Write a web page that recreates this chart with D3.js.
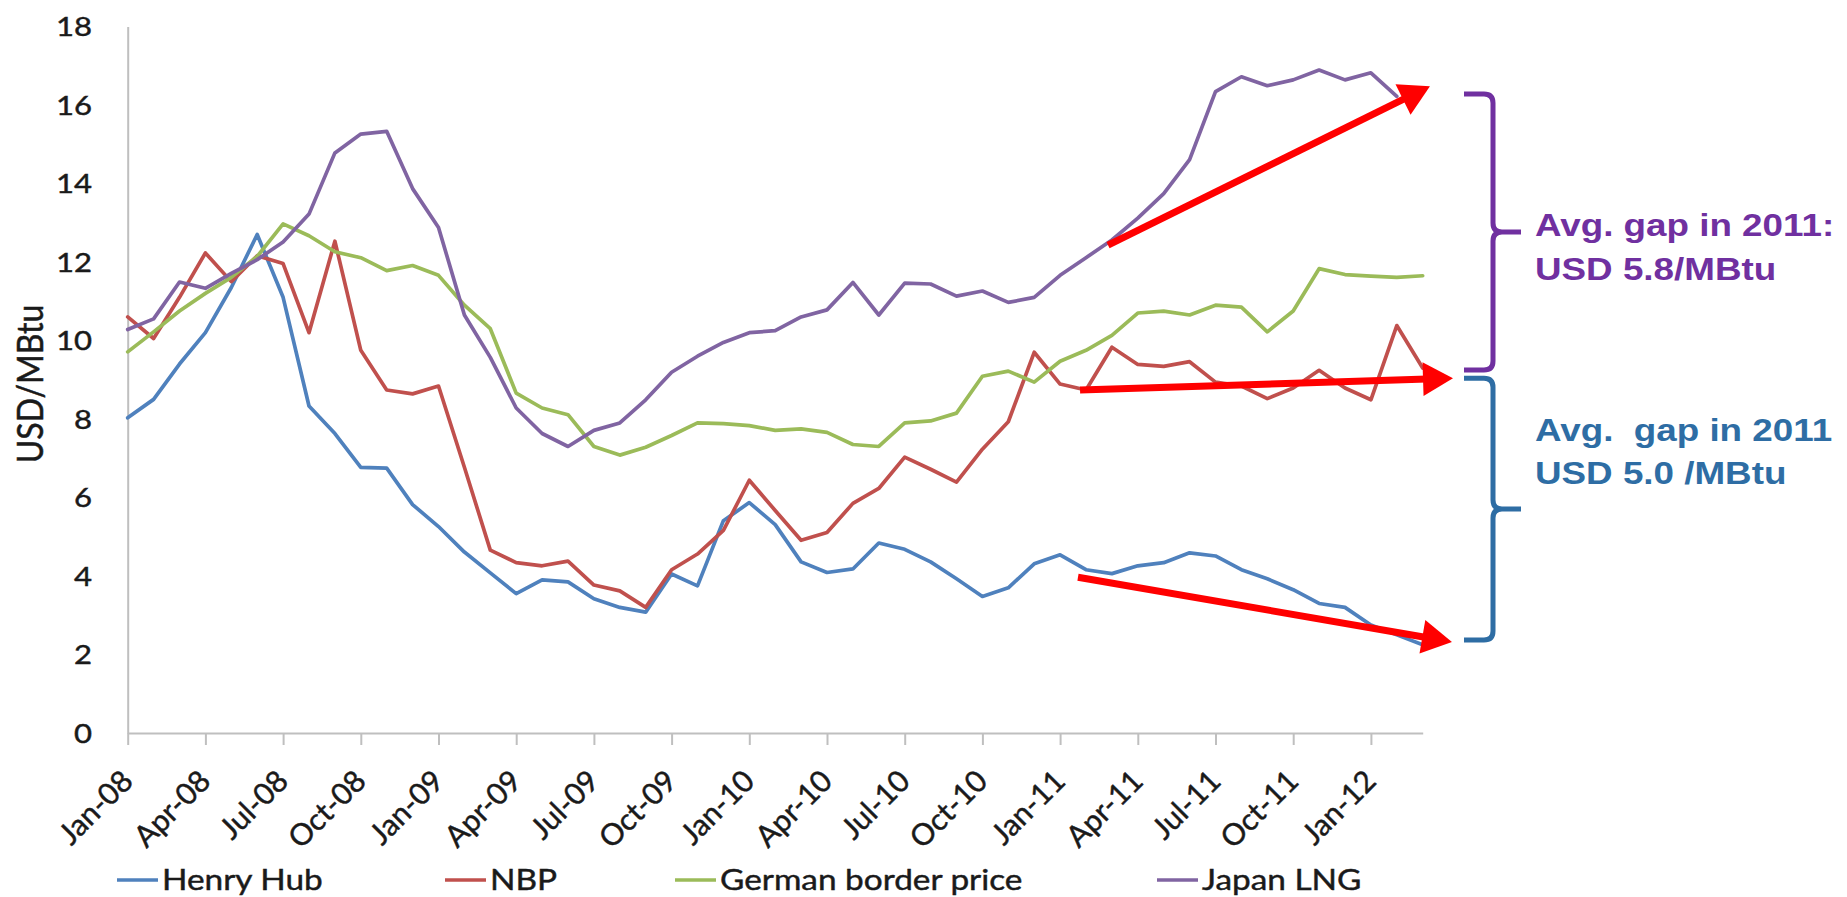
<!DOCTYPE html>
<html>
<head>
<meta charset="utf-8">
<script src="https://cdn.jsdelivr.net/npm/d3@7"></script>
<style>
  html, body { margin: 0; padding: 0; background: #ffffff; }
  svg { display: block; }
</style>
</head>
<body>
<svg id="chart" width="1847" height="897"></svg>
<script>
// Monthly gas prices, USD/MBtu, Jan-08 .. Mar-12
const months = [
  "Jan-08","Feb-08","Mar-08","Apr-08","May-08","Jun-08","Jul-08","Aug-08","Sep-08","Oct-08","Nov-08","Dec-08",
  "Jan-09","Feb-09","Mar-09","Apr-09","May-09","Jun-09","Jul-09","Aug-09","Sep-09","Oct-09","Nov-09","Dec-09",
  "Jan-10","Feb-10","Mar-10","Apr-10","May-10","Jun-10","Jul-10","Aug-10","Sep-10","Oct-10","Nov-10","Dec-10",
  "Jan-11","Feb-11","Mar-11","Apr-11","May-11","Jun-11","Jul-11","Aug-11","Sep-11","Oct-11","Nov-11","Dec-11",
  "Jan-12","Feb-12","Mar-12"
];

const tickLabels = ["Jan-08","Apr-08","Jul-08","Oct-08","Jan-09","Apr-09","Jul-09","Oct-09",
                    "Jan-10","Apr-10","Jul-10","Oct-10","Jan-11","Apr-11","Jul-11","Oct-11","Jan-12"];

const yTicks = [0, 2, 4, 6, 8, 10, 12, 14, 16, 18];

const henryHub = [
  8.03, 8.50, 9.40, 10.20, 11.35, 12.70, 11.10, 8.33, 7.63, 6.77, 6.75, 5.82,
  5.26, 4.61, 4.08, 3.55, 3.90, 3.85, 3.42, 3.20, 3.08, 4.05, 3.75, 5.41,
  5.87, 5.31, 4.36, 4.09, 4.18, 4.84, 4.68, 4.36, 3.93, 3.48, 3.70, 4.31,
  4.54, 4.16, 4.06, 4.26, 4.34, 4.59, 4.51, 4.16, 3.93, 3.65, 3.30, 3.20,
  2.75, 2.50, 2.25
];

const nbp = [
  10.60, 10.05, 11.10, 12.23, 11.50, 12.16, 11.96, 10.20, 12.53, 9.75, 8.74, 8.64,
  8.84, 6.77, 4.66, 4.34, 4.26, 4.38, 3.77, 3.62, 3.20, 4.16, 4.56, 5.16,
  6.44, 5.67, 4.91, 5.11, 5.85, 6.23, 7.03, 6.72, 6.39, 7.23, 7.93, 9.70,
  8.89, 8.74, 9.83, 9.39, 9.34, 9.46, 8.94, 8.84, 8.52, 8.79, 9.24, 8.79,
  8.49, 10.38, 9.30
];

const germanBorder = [
  9.71, 10.22, 10.75, 11.20, 11.61, 12.14, 12.97, 12.67, 12.26, 12.11, 11.78, 11.91,
  11.66, 10.90, 10.30, 8.66, 8.28, 8.11, 7.30, 7.08, 7.28, 7.58, 7.90, 7.88,
  7.83, 7.71, 7.75, 7.66, 7.35, 7.30, 7.90, 7.95, 8.15, 9.09, 9.22, 8.94,
  9.47, 9.75, 10.13, 10.70, 10.75, 10.65, 10.90, 10.85, 10.22, 10.75, 11.83, 11.68,
  11.64, 11.61, 11.65
];

const japanLng = [
  10.28, 10.55, 11.49, 11.33, 11.71, 12.06, 12.51, 13.22, 14.78, 15.26, 15.33, 13.87,
  12.88, 10.65, 9.57, 8.28, 7.63, 7.30, 7.71, 7.90, 8.49, 9.19, 9.60, 9.95,
  10.20, 10.25, 10.60, 10.78, 11.48, 10.65, 11.46, 11.44, 11.13, 11.26, 10.97, 11.10,
  11.66, 12.11, 12.56, 13.12, 13.74, 14.61, 16.34, 16.72, 16.49, 16.64, 16.89, 16.64,
  16.82, 16.22, null
];

const seriesNames  = ["Henry Hub", "NBP", "German border price", "Japan LNG"];
const seriesColors = ["#4F81BD", "#C0504D", "#9BBB59", "#8064A2"];

// Trend arrows over 2011, in (month index, USD/MBtu)
const trendArrows = [
  { from: [37.85, 12.43], to: [50.28, 16.48] },
  { from: [36.77, 8.74],  to: [51.17, 9.04] },
  { from: [36.69, 3.97],  to: [51.13, 2.32] }
];

// Gap braces: top, bottom (USD/MBtu)
const gapBraces = [
  { top: 16.28, bottom: 9.25, color: "#7030A0",
    lines: ["Avg. gap in 2011:", "USD 5.8/MBtu"] },
  { top: 9.04, bottom: 2.37, color: "#2E6DA4",
    lines: ["Avg.  gap in 2011", "USD 5.0 /MBtu"] }
];

// ---------------------------------------------------------------
const SX = 1.15;                       // horizontal text stretch
const svg = d3.select("#chart");
svg.append("rect").attr("width", 1847).attr("height", 897).attr("fill", "#ffffff");

const x = d3.scaleLinear().domain([0, months.length - 1]).range([127.7, 1422.7]);
const y = d3.scaleLinear().domain([0, 18]).range([733, 26.5]);

const axisColor = "#BFBFBF";
const textColor = "#1a1a1a";
const axisFont = "Lato, 'Open Sans', sans-serif";

// applies the common label look
function labelStyle(sel, size) {
  sel.attr("font-family", axisFont)
     .attr("font-size", size)
     .attr("fill", textColor)
     .attr("stroke", textColor)
     .attr("stroke-width", 0.45);
}

// y axis line
const yAxis = svg.append("g")
  .attr("transform", `translate(${x(0)},0)`)
  .call(d3.axisLeft(y).tickValues(yTicks).tickSize(0).tickFormat(""));
yAxis.select(".domain").attr("stroke", axisColor).attr("stroke-width", 2);

// y tick labels
svg.append("g").selectAll("text")
  .data(yTicks)
  .join("text")
  .attr("transform", d => `translate(92,${y(d)}) scale(${SX},1)`)
  .attr("dy", "0.36em")
  .attr("text-anchor", "end")
  .call(labelStyle, 27)
  .text(d => d);

// x axis line and quarterly ticks
const tickIdx = tickLabels.map(l => months.indexOf(l));
const xAxis = svg.append("g")
  .attr("transform", `translate(0,${y(0)})`)
  .call(d3.axisBottom(x).tickValues(tickIdx).tickSizeInner(12).tickSizeOuter(0).tickFormat(""));
xAxis.select(".domain").attr("stroke", axisColor).attr("stroke-width", 2);
xAxis.selectAll(".tick line").attr("stroke", axisColor).attr("stroke-width", 2);

// rotated month labels
svg.append("g").selectAll("text")
  .data(tickLabels)
  .join("text")
  .attr("transform", d => `translate(${x(months.indexOf(d)) + 7},${y(0) + 50}) rotate(-45)`)
  .attr("text-anchor", "end")
  .call(labelStyle, 30)
  .text(d => d);

// y axis title
svg.append("text")
  .attr("transform", `translate(43,384) scale(${SX},1) rotate(-90)`)
  .attr("text-anchor", "middle")
  .call(labelStyle, 32)
  .text("USD/MBtu");

// price lines
const series = [henryHub, nbp, germanBorder, japanLng].map((values, i) => ({
  name: seriesNames[i], color: seriesColors[i], values
}));

const line = d3.line()
  .defined(d => d != null)
  .x((d, i) => x(i))
  .y(d => y(d));

svg.append("g").selectAll("path")
  .data(series)
  .join("path")
  .attr("d", s => line(s.values))
  .attr("fill", "none")
  .attr("stroke", s => s.color)
  .attr("stroke-width", 3.7)
  .attr("stroke-linejoin", "round")
  .attr("stroke-linecap", "round");

// legend
const legendX = [117, 445, 675, 1157];
const legendY = 880;
const legend = svg.append("g").selectAll("g")
  .data(series)
  .join("g")
  .attr("transform", (s, i) => `translate(${legendX[i]},${legendY})`);
legend.append("line")
  .attr("x1", 0).attr("x2", 41).attr("y1", 0).attr("y2", 0)
  .attr("stroke", s => s.color).attr("stroke-width", 3.5);
legend.append("text")
  .attr("transform", `translate(45,10) scale(${SX},1)`)
  .call(labelStyle, 29)
  .text(s => s.name);

// red trend arrows
const arrowG = svg.append("g");
trendArrows.forEach(a => {
  const x0 = x(a.from[0]), y0 = y(a.from[1]);
  const x1 = x(a.to[0]),   y1 = y(a.to[1]);
  const len = Math.hypot(x1 - x0, y1 - y0);
  const ux = (x1 - x0) / len, uy = (y1 - y0) / len;
  const headL = 30, headW = 17;
  const bx = x1 - ux * headL, by = y1 - uy * headL;
  arrowG.append("line")
    .attr("x1", x0).attr("y1", y0)
    .attr("x2", bx + ux * 4).attr("y2", by + uy * 4)
    .attr("stroke", "#FF0000").attr("stroke-width", 7);
  arrowG.append("polygon")
    .attr("points", [
      [x1, y1],
      [bx - uy * headW, by + ux * headW],
      [bx + uy * headW, by - ux * headW]
    ].map(p => p.join(",")).join(" "))
    .attr("fill", "#FF0000");
});

// braces and gap notes
const braceG = svg.append("g");
const xe = 1464, xv = 1493, xn = 1521, r = 9;
gapBraces.forEach(b => {
  const t = y(b.top), bt = y(b.bottom), m = (t + bt) / 2;
  const p = d3.path();
  p.moveTo(xe, t);
  p.lineTo(xv - r, t);
  p.quadraticCurveTo(xv, t, xv, t + r);
  p.lineTo(xv, m - r);
  p.quadraticCurveTo(xv, m, xv + r, m);
  p.lineTo(xn, m);
  p.moveTo(xv + r, m);
  p.quadraticCurveTo(xv, m, xv, m + r);
  p.lineTo(xv, bt - r);
  p.quadraticCurveTo(xv, bt, xv - r, bt);
  p.lineTo(xe, bt);
  braceG.append("path")
    .attr("d", p.toString())
    .attr("fill", "none")
    .attr("stroke", b.color)
    .attr("stroke-width", 5);
});

const noteBase = [[236, 280], [441, 484]];
gapBraces.forEach((b, i) => {
  b.lines.forEach((txt, j) => {
    braceG.append("text")
      .attr("transform", `translate(1535,${noteBase[i][j]}) scale(${SX},1)`)
      .attr("font-family", "'Liberation Sans', Arial, sans-serif")
      .attr("font-weight", "bold")
      .attr("font-size", 32)
      .attr("fill", b.color)
      .style("white-space", "pre")
      .text(txt);
  });
});
</script>
</body>
</html>
